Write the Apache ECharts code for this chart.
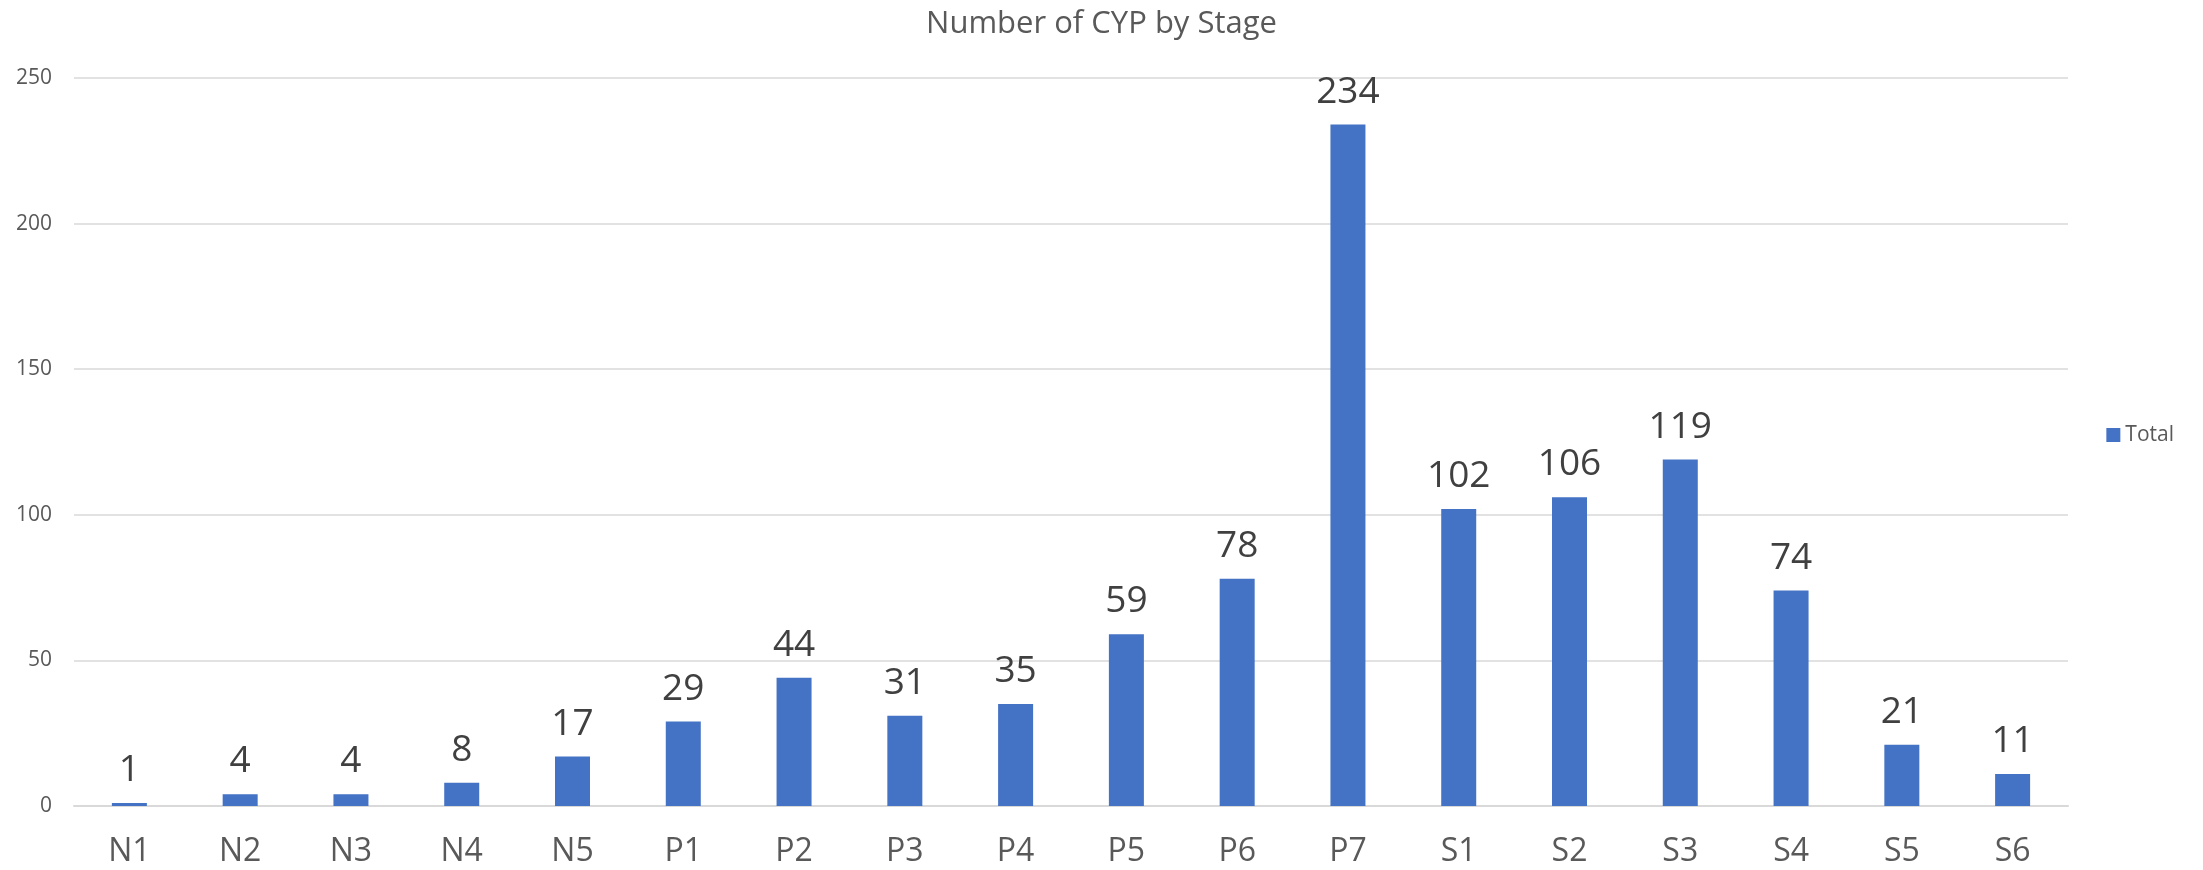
<!DOCTYPE html>
<html>
<head>
<meta charset="utf-8">
<script src="https://cdn.jsdelivr.net/npm/echarts@6/dist/echarts.min.js"></script>
<style>
  html, body { margin: 0; padding: 0; background: #fff; }
  #chart { width: 2203px; height: 870px; }
</style>
</head>
<body>
<div id="chart"></div>
<script>
// Stage categories and counts
var stages = ['N1', 'N2', 'N3', 'N4', 'N5', 'P1', 'P2', 'P3', 'P4', 'P5', 'P6', 'P7', 'S1', 'S2', 'S3', 'S4', 'S5', 'S6'];
var totals = [1, 4, 4, 8, 17, 29, 44, 31, 35, 59, 78, 234, 102, 106, 119, 74, 21, 11];

var FONT = '"Open Sans", "Noto Sans", sans-serif';
var chart = echarts.init(document.getElementById('chart'), null, { renderer: 'canvas' });

chart.setOption({
  backgroundColor: '#ffffff',
  animation: false,
  title: {
    text: 'Number of CYP by Stage',
    left: 'center',
    top: 4,
    textStyle: { color: '#595959', fontSize: 31, fontWeight: 'normal', fontFamily: FONT }
  },
  legend: {
    right: 24,
    top: 'middle',
    itemWidth: 14,
    itemHeight: 14,
    itemGap: 4,
    icon: 'rect',
    textStyle: { color: '#595959', fontSize: 21, fontFamily: FONT }
  },
  grid: { left: 74, right: 135, top: 78, bottom: 64 },
  xAxis: {
    type: 'category',
    data: stages,
    axisLine: { lineStyle: { color: '#d9d9d9', width: 2 } },
    axisTick: { show: false },
    axisLabel: { color: '#595959', fontSize: 32, fontFamily: FONT, margin: 30 }
  },
  yAxis: {
    type: 'value',
    min: 0,
    max: 250,
    interval: 50,
    axisLine: { show: false },
    axisTick: { show: false },
    axisLabel: { color: '#595959', fontSize: 21, fontFamily: FONT, margin: 22 },
    splitLine: { lineStyle: { color: '#d9d9d9', width: 1.5 } }
  },
  series: [{
    name: 'Total',
    type: 'bar',
    data: totals,
    barWidth: 35,
    itemStyle: { color: '#4472C4' },
    label: {
      show: true,
      position: 'top',
      distance: 14,
      color: '#404040',
      fontSize: 37,
      fontFamily: FONT
    }
  }]
});
</script>
</body>
</html>
